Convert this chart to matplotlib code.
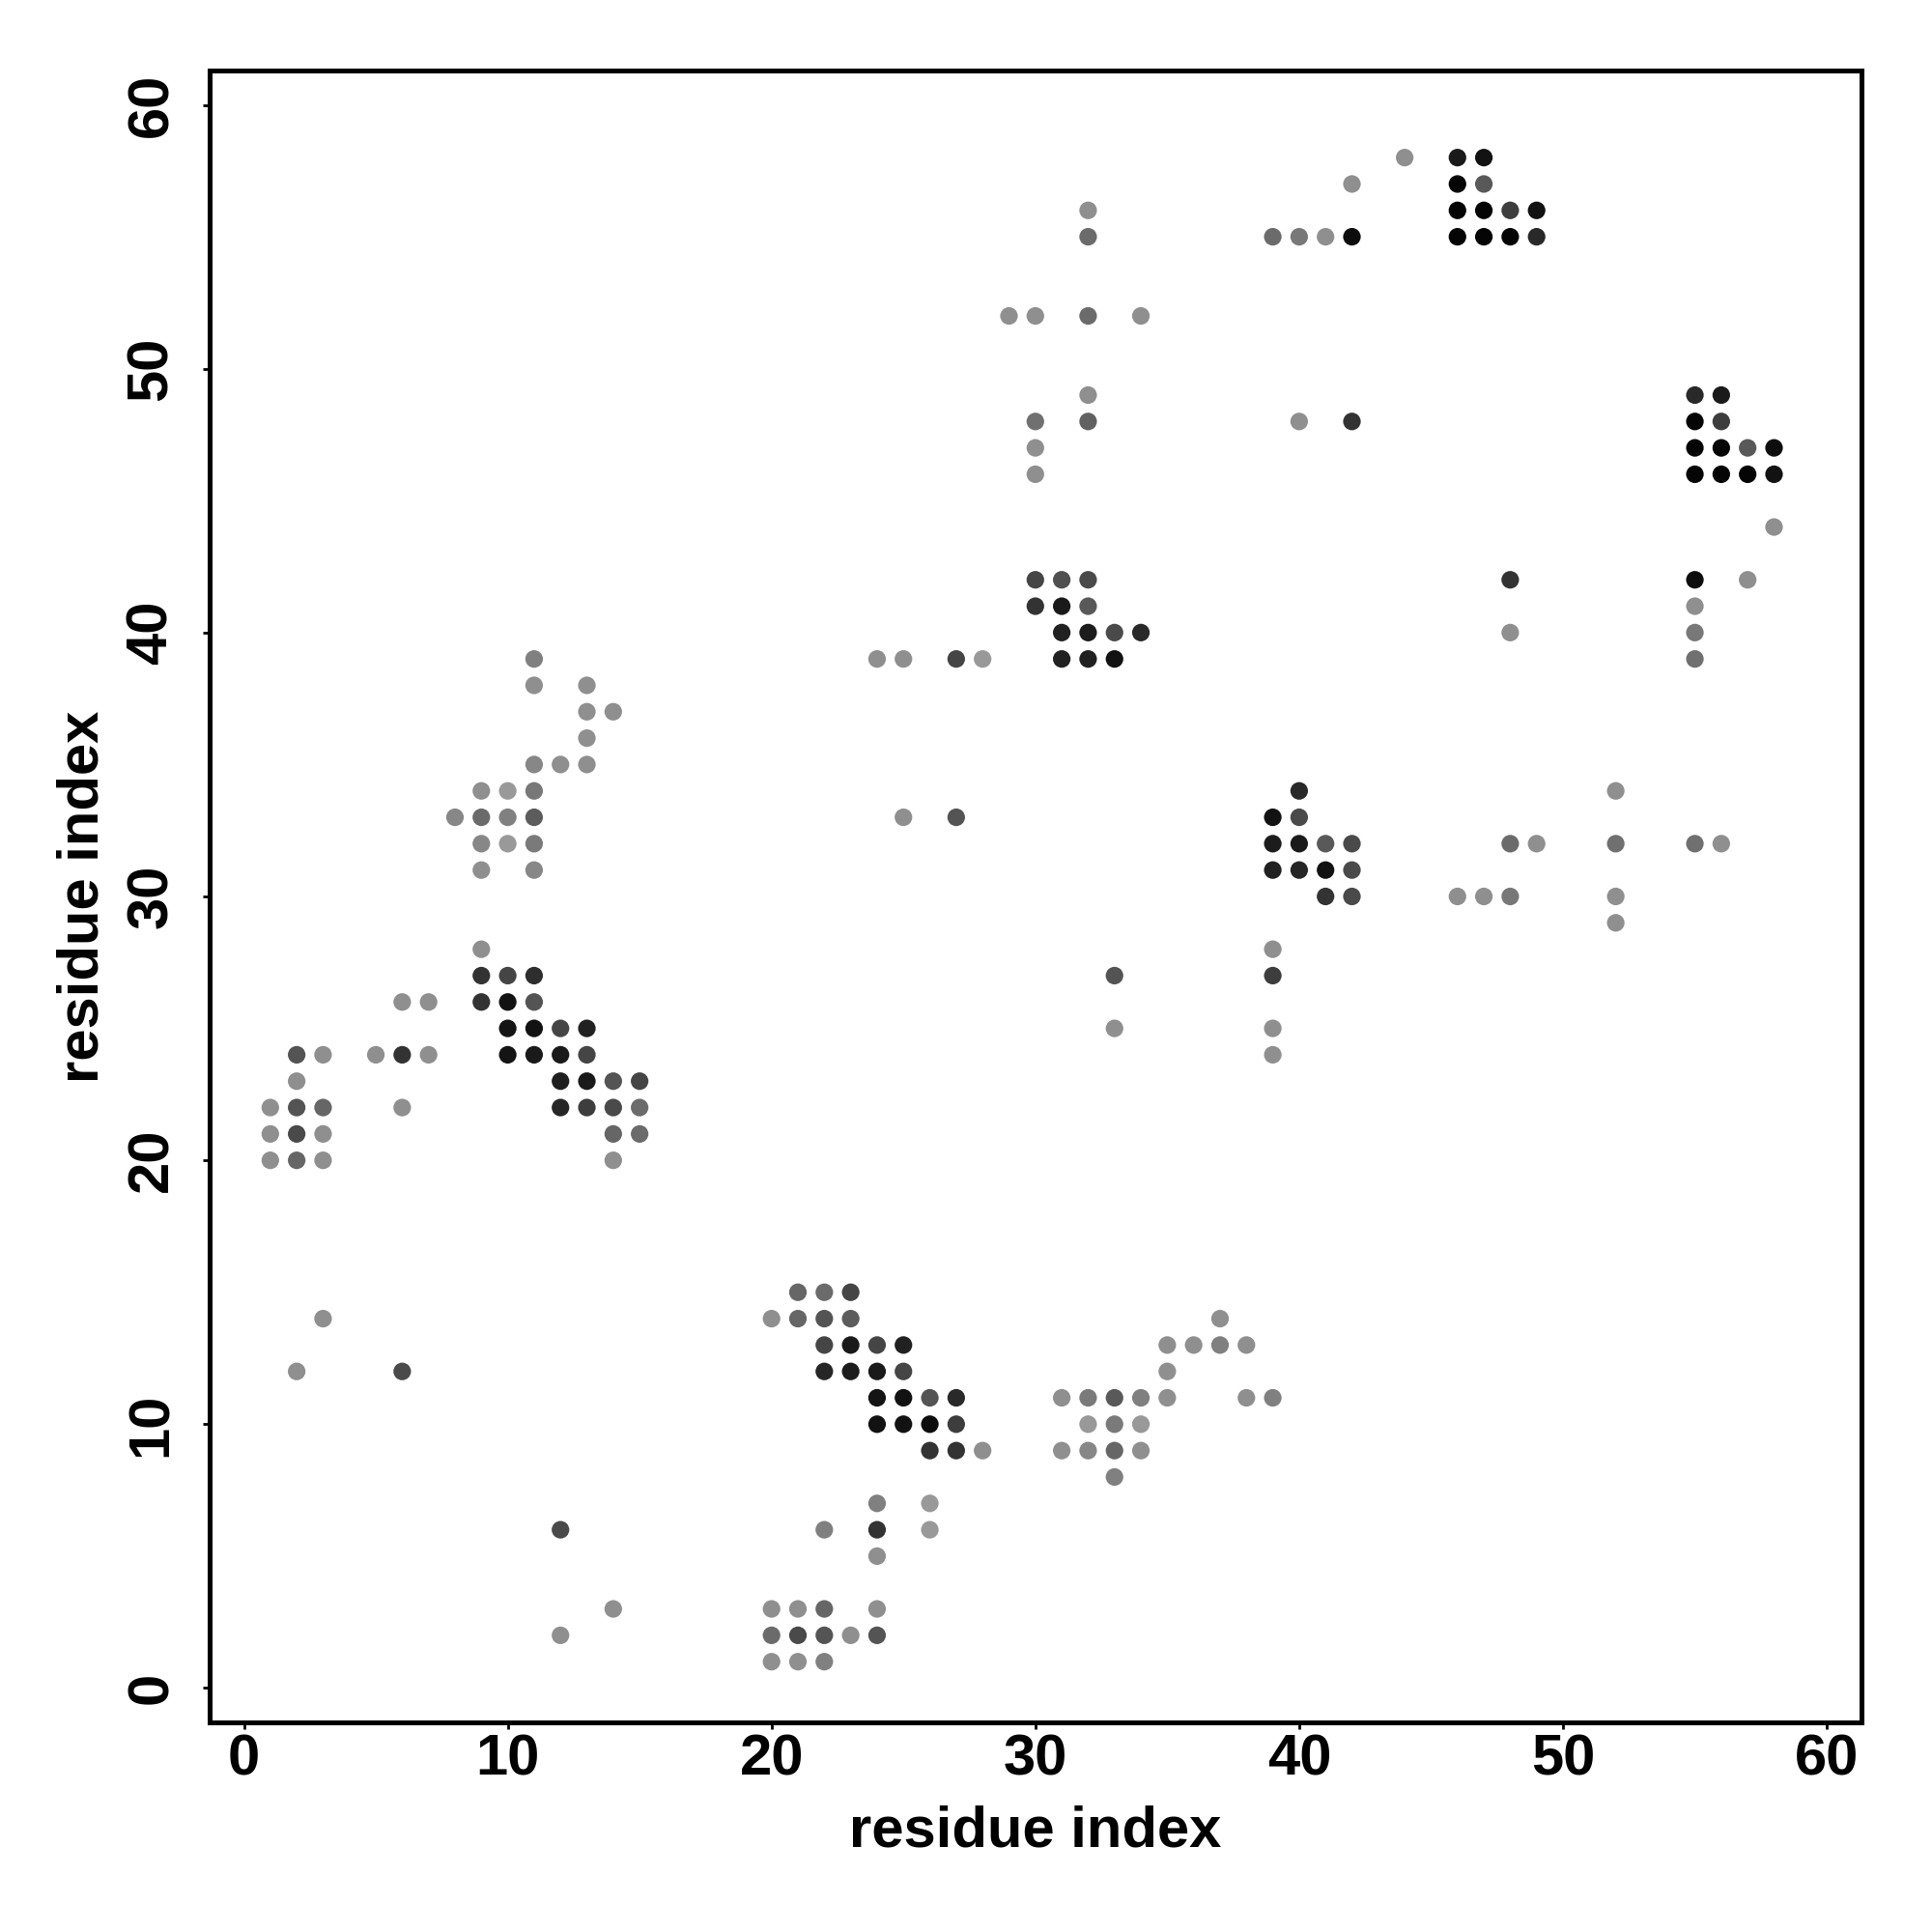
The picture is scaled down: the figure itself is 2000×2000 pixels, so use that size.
import matplotlib
matplotlib.use("Agg")
import matplotlib.pyplot as plt

L = 0.56  # light grey level used by many contacts

# residue i (x), residue j (y), grey level of the dot (0 = black, 1 = white)
x_res = [
    2, 3, 6, 12, 12, 14,
    2, 3, 2, 1, 2, 3, 1, 2, 3, 1, 2, 3,
    5, 6, 7, 6, 6, 7,
    9,
    9, 10, 11,
    9, 10, 11,
    10, 11, 12, 13,
    10, 11, 12, 13,
    12, 13, 14, 15,
    12, 13, 14, 15,
    14, 15,
    14,
    11, 11, 13, 13, 14, 13, 11, 12, 13,
    9, 10, 11,
    8, 9, 10, 11,
    9, 10, 11,
    9, 11,
    21, 22, 23,
    20, 21, 22, 23,
    22, 23, 24, 25,
    22, 23, 24, 25,
    24, 25, 26, 27,
    24, 25, 26, 27,
    26, 27, 28,
    37,
    35, 36, 37, 38,
    35,
    31, 32, 33, 34, 35, 38, 39,
    32, 33, 34,
    31, 32, 33, 34,
    33,
    24, 26,
    22, 24, 26,
    24,
    20, 21, 22, 24,
    20, 21, 22, 23, 24,
    20, 21, 22,
    24, 25, 27, 28,
    25, 27,
    33, 33,
    30, 31, 32,
    30, 31, 32,
    31, 32, 33, 34,
    31, 32, 33,
    32, 32,
    29, 30, 32, 34,
    32, 32, 30, 30, 30,
    39, 40, 41, 42,
    42, 44,
    40, 42,
    46, 47,
    46, 47,
    46, 47, 48, 49,
    46, 47, 48, 49,
    55, 56,
    55, 56,
    55, 56, 57, 58,
    55, 56, 57, 58,
    58,
    48, 55, 57,
    55,
    48, 55,
    55,
    40,
    39, 40,
    39, 40, 41, 42,
    39, 40, 41, 42,
    41, 42,
    46, 47, 48,
    48, 49,
    52, 52, 52, 52,
    55, 56,
    39, 39, 39, 39,
]

y_res = [
    12, 14, 12, 6, 2, 3,
    24, 24, 23, 22, 22, 22, 21, 21, 21, 20, 20, 20,
    24, 24, 24, 22, 26, 26,
    28,
    27, 27, 27,
    26, 26, 26,
    25, 25, 25, 25,
    24, 24, 24, 24,
    23, 23, 23, 23,
    22, 22, 22, 22,
    21, 21,
    20,
    39, 38, 38, 37, 37, 36, 35, 35, 35,
    34, 34, 34,
    33, 33, 33, 33,
    32, 32, 32,
    31, 31,
    15, 15, 15,
    14, 14, 14, 14,
    13, 13, 13, 13,
    12, 12, 12, 12,
    11, 11, 11, 11,
    10, 10, 10, 10,
    9, 9, 9,
    14,
    13, 13, 13, 13,
    12,
    11, 11, 11, 11, 11, 11, 11,
    10, 10, 10,
    9, 9, 9, 9,
    8,
    7, 7,
    6, 6, 6,
    5,
    3, 3, 3, 3,
    2, 2, 2, 2, 2,
    1, 1, 1,
    39, 39, 39, 39,
    33, 33,
    27, 25,
    42, 42, 42,
    41, 41, 41,
    40, 40, 40, 40,
    39, 39, 39,
    56, 55,
    52, 52, 52, 52,
    49, 48, 48, 47, 46,
    55, 55, 55, 55,
    57, 58,
    48, 48,
    58, 58,
    57, 57,
    56, 56, 56, 56,
    55, 55, 55, 55,
    49, 49,
    48, 48,
    47, 47, 47, 47,
    46, 46, 46, 46,
    44,
    42, 42, 42,
    41,
    40, 40,
    39,
    34,
    33, 33,
    32, 32, 32, 32,
    31, 31, 31, 31,
    30, 30,
    30, 30, 30,
    32, 32,
    34, 32, 30, 29,
    32, 32,
    28, 27, 25, 24,
]

gray = [
    L, L, 0.29, 0.29, L, L,
    0.33, L, L, L, 0.33, 0.40, L, 0.29, L, L, 0.40, L,
    L, 0.20, L, L, L, L,
    L,
    0.20, 0.27, 0.18,
    0.20, 0.07, 0.33,
    0.08, 0.07, 0.27, 0.13,
    0.08, 0.10, 0.10, 0.27,
    0.12, 0.10, 0.33, 0.27,
    0.15, 0.24, 0.29, 0.42,
    0.40, 0.42,
    L,
    0.50, L, L, L, L, L, 0.53, L, L,
    L, 0.60, 0.47,
    0.53, 0.42, 0.50, 0.36,
    0.53, 0.60, 0.48,
    L, 0.53,
    0.40, 0.42, 0.27,
    L, 0.40, 0.33, 0.36,
    0.27, 0.10, 0.27, 0.13,
    0.15, 0.11, 0.10, 0.27,
    0.08, 0.07, 0.33, 0.16,
    0.07, 0.07, 0.05, 0.24,
    0.20, 0.20, L,
    L,
    L, L, 0.50, L,
    L,
    L, 0.48, 0.35, 0.50, L, L, 0.50,
    0.60, 0.48, 0.60,
    L, 0.53, 0.40, L,
    0.50,
    0.50, 0.60,
    0.50, 0.20, 0.60,
    L,
    L, L, 0.40, L,
    0.42, 0.29, 0.33, L, 0.33,
    L, L, 0.50,
    L, L, 0.27, 0.60,
    L, 0.33,
    0.33, L,
    0.27, 0.31, 0.29,
    0.20, 0.10, 0.35,
    0.13, 0.11, 0.29, 0.16,
    0.13, 0.13, 0.07,
    L, 0.42,
    L, L, 0.42, L,
    L, 0.38, 0.44, L, L,
    0.42, 0.47, L, 0.05,
    L, L,
    L, 0.20,
    0.10, 0.07,
    0.02, 0.35,
    0.02, 0.02, 0.24, 0.07,
    0.02, 0.02, 0.02, 0.16,
    0.16, 0.10,
    0.02, 0.24,
    0.02, 0.02, 0.35, 0.05,
    0.02, 0.02, 0.02, 0.07,
    L,
    0.20, 0.05, L,
    L,
    L, 0.47,
    0.44,
    0.16,
    0.07, 0.29,
    0.11, 0.10, 0.35, 0.29,
    0.13, 0.15, 0.07, 0.29,
    0.20, 0.29,
    L, L, 0.47,
    0.42, L,
    L, 0.44, L, L,
    0.44, L,
    L, 0.24, L, L,
]

ticks = [0, 10, 20, 30, 40, 50, 60]
tick_labels = ["0", "10", "20", "30", "40", "50", "60"]

plt.rcParams["font.family"] = ["Liberation Sans", "DejaVu Sans"]
plt.rcParams["font.weight"] = "bold"

fig = plt.figure(figsize=(20, 20), dpi=100)
ax = fig.add_axes([0.1085, 0.1085, 0.8548, 0.855])

ax.scatter(x_res, y_res, s=172, c=[str(g) for g in gray], linewidths=0, zorder=3)

ax.set_xlim(-1.3, 61.3)
ax.set_ylim(-1.3, 61.3)
ax.set_xticks(ticks)
ax.set_xticklabels(tick_labels)
ax.set_yticks(ticks)
ax.set_yticklabels(tick_labels)

for sp in ax.spines.values():
    sp.set_linewidth(3.6)
    sp.set_color("black")

ax.tick_params(axis="both", direction="out", length=5, width=2, labelsize=43)
ax.tick_params(axis="x", pad=3)
ax.tick_params(axis="y", pad=18, labelrotation=90)
for lbl in ax.get_xticklabels() + ax.get_yticklabels():
    lbl.set_fontweight("bold")
for lbl in ax.get_yticklabels():
    lbl.set_va("center")

ax.set_xlabel("residue index", fontsize=43, fontweight="bold", va="baseline")
ax.xaxis.set_label_coords(0.5, -0.0754)
ax.set_ylabel("residue index", fontsize=43, fontweight="bold", va="baseline",
              rotation=90, rotation_mode="anchor")
ax.yaxis.set_label_coords(-0.0673, 0.5)

fig.savefig("out.png", dpi=100)
